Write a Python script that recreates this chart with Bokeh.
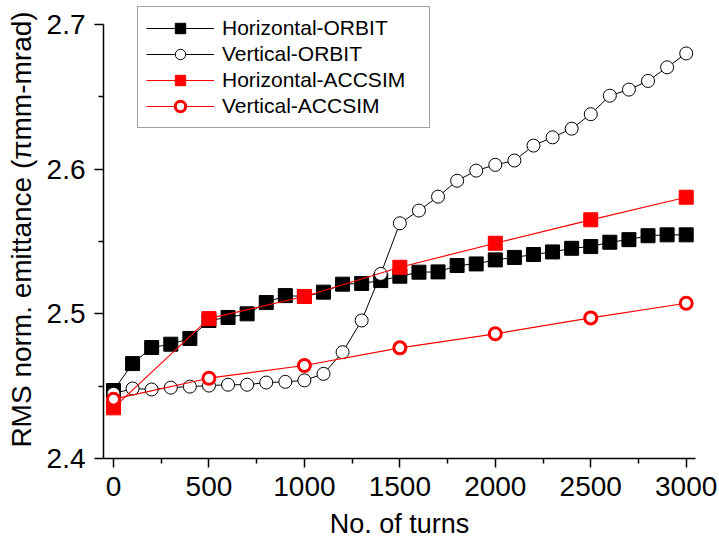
from bokeh.plotting import figure
from bokeh.models import Range1d, FixedTicker
from bokeh.embed import file_html
from bokeh.resources import INLINE

# ---- data ----
turns_orbit = [0, 100, 200, 300, 400, 500, 600, 700, 800, 900, 1000,
               1100, 1200, 1300, 1400, 1500, 1600, 1700, 1800, 1900, 2000,
               2100, 2200, 2300, 2400, 2500, 2600, 2700, 2800, 2900, 3000]
h_orbit = [2.447, 2.4656, 2.4767, 2.479, 2.483, 2.4954, 2.4975, 2.500, 2.5078, 2.5126, 2.512,
           2.515, 2.5205, 2.521, 2.523, 2.526, 2.5288, 2.529, 2.5334, 2.5345, 2.5373,
           2.539, 2.541, 2.5428, 2.5453, 2.5465, 2.5495, 2.5513, 2.554, 2.5546, 2.5546]
v_orbit = [2.4447, 2.4484, 2.4477, 2.449, 2.4497, 2.4504, 2.451, 2.451, 2.4525, 2.453, 2.454,
           2.4585, 2.4735, 2.4954, 2.5276, 2.5626, 2.5714, 2.581, 2.592, 2.599, 2.603,
           2.606, 2.6163, 2.622, 2.628, 2.638, 2.6508, 2.655, 2.661, 2.6704, 2.680]
turns_accsim = [0, 500, 1000, 1500, 2000, 2500, 3000]
h_accsim = [2.435, 2.4967, 2.512, 2.5322, 2.5488, 2.565, 2.5806]
v_accsim = [2.441, 2.4555, 2.4643, 2.4765, 2.4862, 2.4972, 2.5073]

x_ticks = [0, 500, 1000, 1500, 2000, 2500, 3000]
x_minor = [250, 750, 1250, 1750, 2250, 2750]
y_ticks = [2.4, 2.5, 2.6, 2.7]
y_minor = [2.45, 2.55, 2.65]
x_title = "No. of turns"
y_title = "RMS norm. emittance (\u03c0mm-mrad)"

FONT = "Liberation Sans"
RED = "#FF0000"

# the y range reaches a little above 2.7 so that the legend can sit above the top tick;
# the y axis line itself stops at 2.7 (bounds)
p = figure(width=719, height=541, output_backend="svg", toolbar_location=None,
           x_range=Range1d(-52.4, 3048.7), y_range=Range1d(2.4, 2.7166),
           min_border_left=103, min_border_right=24, min_border_top=0, min_border_bottom=83)
p.outline_line_color = None
p.xgrid.visible = False
p.ygrid.visible = False

# ---- series ----
p.line(turns_orbit, h_orbit, line_color="black", line_width=1, legend_label="Horizontal-ORBIT")
p.scatter(turns_orbit, h_orbit, marker="square", size=14, fill_color="black", line_color="black",
          line_width=1, legend_label="Horizontal-ORBIT")

p.line(turns_orbit, v_orbit, line_color="black", line_width=1, legend_label="Vertical-ORBIT")
p.scatter(turns_orbit, v_orbit, marker="circle", size=13, fill_color="white", line_color="black",
          line_width=1, legend_label="Vertical-ORBIT")

p.line(turns_accsim, h_accsim, line_color=RED, line_width=1.2, legend_label="Horizontal-ACCSIM")
p.scatter(turns_accsim, h_accsim, marker="square", size=14, fill_color=RED, line_color=RED,
          line_width=1, legend_label="Horizontal-ACCSIM")

p.line(turns_accsim, v_accsim, line_color=RED, line_width=1.2, legend_label="Vertical-ACCSIM")
p.scatter(turns_accsim, v_accsim, marker="circle", size=12, fill_color="white", line_color=RED,
          line_width=3, legend_label="Vertical-ACCSIM")

# ---- axes ----
p.xaxis.ticker = FixedTicker(ticks=x_ticks, minor_ticks=x_minor)
p.yaxis.ticker = FixedTicker(ticks=y_ticks, minor_ticks=y_minor)
p.yaxis.bounds = (2.4, 2.7)
p.xaxis.axis_label = x_title
p.yaxis.axis_label = y_title
for ax in (p.xaxis, p.yaxis):
    ax.axis_line_color = "black"
    ax.axis_line_width = 1.5
    ax.major_tick_line_color = "black"
    ax.major_tick_line_width = 1.5
    ax.minor_tick_line_color = "black"
    ax.minor_tick_line_width = 1.5
    ax.major_tick_in = 0
    ax.major_tick_out = 9
    ax.minor_tick_in = 0
    ax.minor_tick_out = 5
    ax.major_label_text_font = FONT
    ax.major_label_text_font_size = "28px"
    ax.major_label_text_color = "black"
    ax.axis_label_text_font = FONT
    ax.axis_label_text_font_style = "normal"
    ax.axis_label_text_color = "black"
p.xaxis.axis_label_text_font_size = "27px"
p.yaxis.axis_label_text_font_size = "28px"
p.yaxis.major_label_standoff = 9
p.yaxis.axis_label_standoff = 7
p.xaxis.major_label_standoff = 9
p.xaxis.axis_label_standoff = 10

# ---- legend ----
lg = p.legend[0]
lg.location = (34, 330)
lg.margin = 0
lg.padding = 8
lg.spacing = 0
lg.glyph_width = 68
lg.glyph_height = 26
lg.label_height = 26
lg.label_width = 199
lg.label_standoff = 8
lg.label_text_font = FONT
lg.label_text_font_size = "21px"
lg.label_text_color = "black"
lg.border_line_color = "#444444"
lg.border_line_width = 1.5
lg.background_fill_color = "white"
lg.background_fill_alpha = 1.0

open("out.html", "w").write(file_html(p, INLINE))
